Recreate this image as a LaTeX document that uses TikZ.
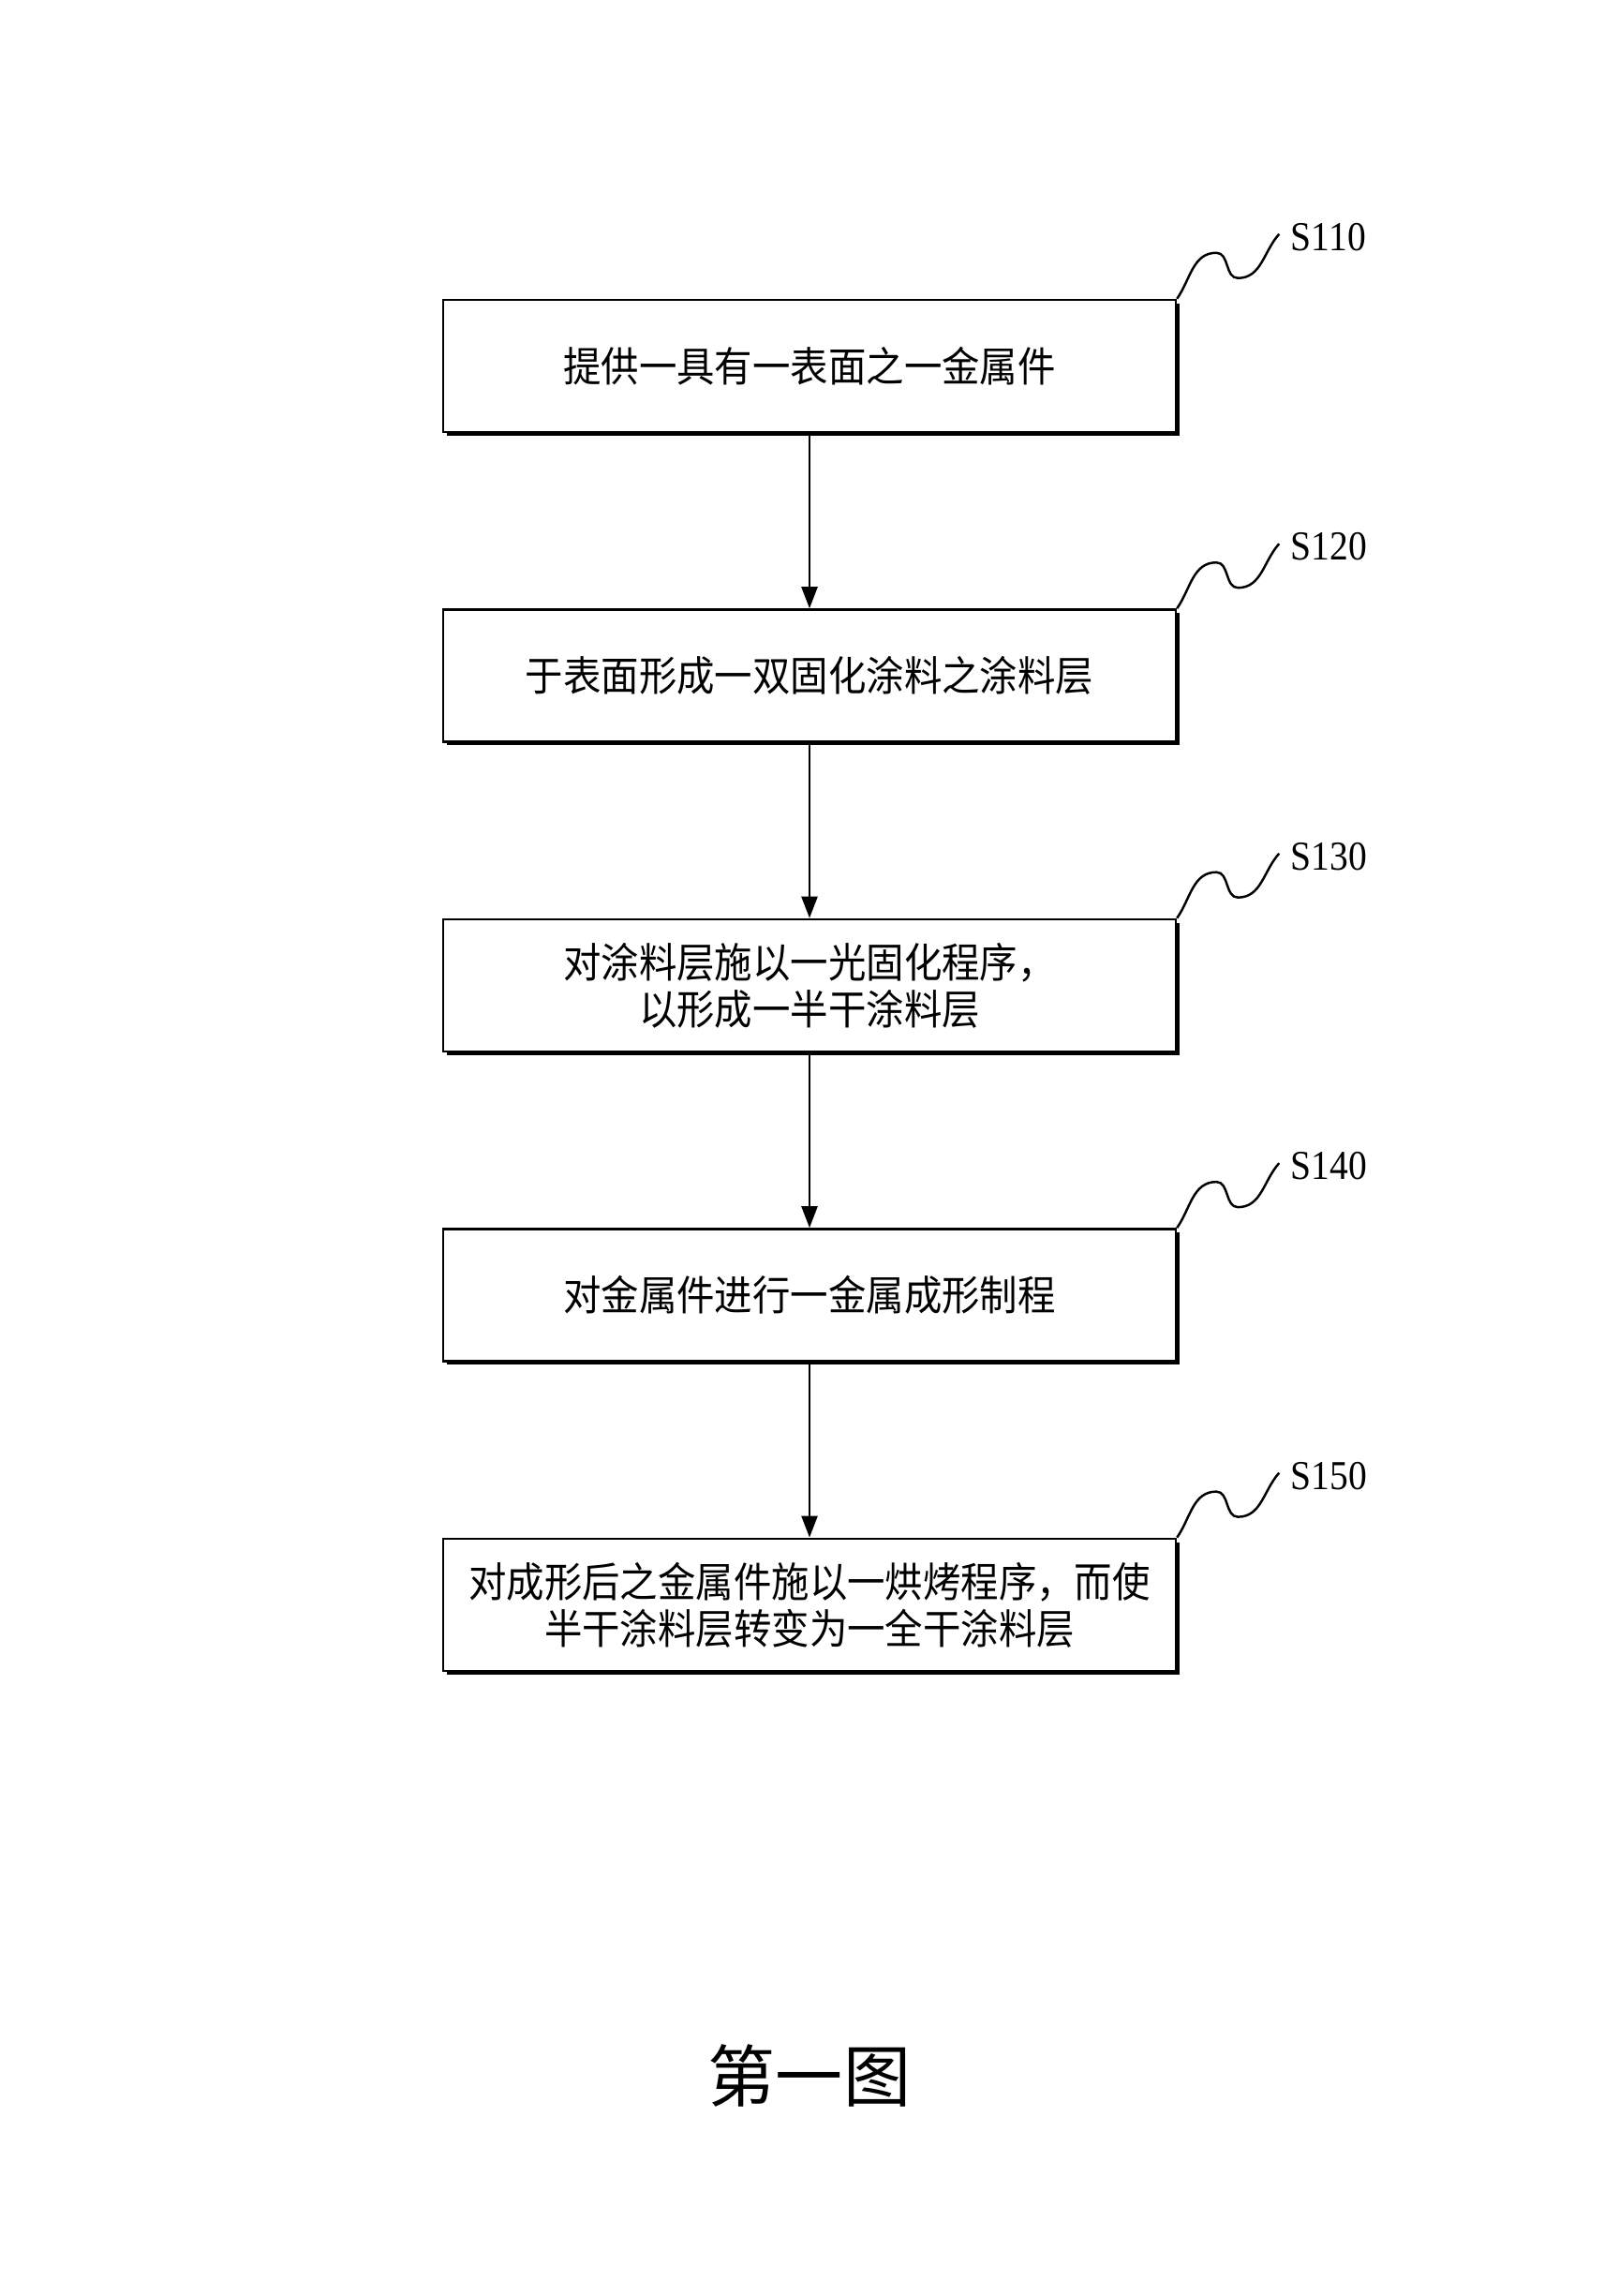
\documentclass[tikz,border=0pt]{standalone}
\usepackage{fontspec}
\setmainfont{Liberation Serif}
\newfontfamily\cjk[FakeStretch=0.92]{Noto Sans CJK SC}
\newfontfamily\cjktitle{Noto Sans CJK SC}
\newfontfamily\tagfont[FakeStretch=0.9]{Liberation Serif}
\usetikzlibrary{arrows.meta,positioning,calc,shadows}

\begin{document}
\begin{tikzpicture}[
  x=1mm, y=1mm,
  stepbox/.style={rectangle, draw, line width=0.7pt, fill=white,
                  minimum width=78.2mm, minimum height=14.1mm, inner sep=0pt,
                  align=center, font=\cjk\fontsize{12.5}{14.2}\selectfont,
                  drop shadow={shadow xshift=0.4mm, shadow yshift=-0.4mm,
                               fill=black, opacity=1}},
  flow/.style={-{Triangle[length=2.3mm,width=1.7mm]}, line width=0.7pt},
  lead/.style={line width=0.7pt},
  tag/.style={anchor=west, inner sep=0pt,
              font=\tagfont\fontsize{12.5}{14}\selectfont},
  node distance=18.7mm]

\useasboundingbox (0,0) rectangle (172.8,-245);

% ================= the steps ==============================================
\node[stepbox] (s110) at (86.4,-39.05) {提供一具有一表面之一金属件};
\node[stepbox, below=of s110] (s120) {于表面形成一双固化涂料之涂料层};
\node[stepbox, below=of s120] (s130) {对涂料层施以一光固化程序，\\以形成一半干涂料层};
\node[stepbox, below=of s130] (s140) {对金属件进行一金属成形制程};
\node[stepbox, below=of s140] (s150) {对成形后之金属件施以一烘烤程序，而使\\半干涂料层转变为一全干涂料层};

\foreach \a/\b in {s110/s120, s120/s130, s130/s140, s140/s150}
  \draw[flow] (\a) -- (\b);

% ================= the step numbers =======================================
\foreach \s in {110,120,130,140,150} {
  \draw[lead] (s\s.north east) to[out=55,in=180] ++(4.2,4.9)
                               to[out=0,in=180]  ++(2.3,-2.7)
                               to[out=0,in=228]  ++(4.4,4.7);
  \node[tag] (t\s) at ($(s\s.north east)+(12.1,6.6)$) {S\s};
}

\node[font=\cjktitle\fontsize{20.5}{24}\selectfont] (fig) at (86.4,-221.5) {第一图};

\end{tikzpicture}
\end{document}
